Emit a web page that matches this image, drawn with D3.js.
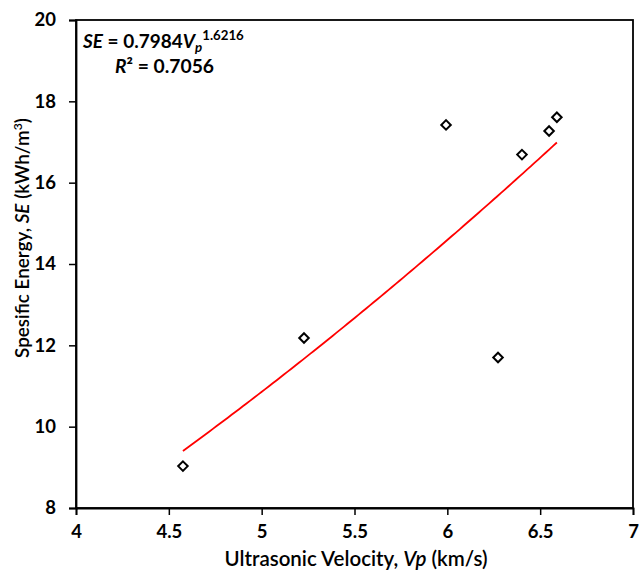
<!DOCTYPE html>
<html><head><meta charset="utf-8">
<script src="https://cdn.jsdelivr.net/npm/d3@7"></script>
<style>body{margin:0;background:#fff}svg{display:block}</style>
</head><body>
<svg id="c" width="641" height="574"></svg>
<script>
const vp = [4.576, 5.228, 5.993, 6.273, 6.402, 6.548, 6.590];
const se = [9.03, 12.18, 17.42, 11.70, 16.69, 17.27, 17.61];
const fitA = 0.7984, fitB = 1.6216;
const xTicks = [4, 4.5, 5, 5.5, 6, 6.5, 7];
const yTicks = [8, 10, 12, 14, 16, 18, 20];

const svg = d3.select("#c");
const L = 76, R = 633, T = 20, B = 508;
const x = d3.scaleLinear().domain([4, 7]).range([L, R]);
const y = d3.scaleLinear().domain([8, 20]).range([B, T]);
const font = "Lato, 'Open Sans', sans-serif";

function fitWidth(sel, target) {
  const w = sel.node().getComputedTextLength();
  const fs = parseFloat(sel.style("font-size"));
  sel.style("font-size", (fs * target / w) + "px");
}

// frame
svg.append("rect").attr("x", L).attr("y", T).attr("width", R - L).attr("height", B - T)
  .attr("fill", "none").attr("stroke", "#000").attr("stroke-width", 1.8);

const xa = svg.append("g").attr("transform", `translate(0,${B})`)
  .call(d3.axisBottom(x).tickValues(xTicks).tickSize(7).tickPadding(10).tickFormat(d3.format("")));
const ya = svg.append("g").attr("transform", `translate(${L},0)`)
  .call(d3.axisLeft(y).tickValues(yTicks).tickSize(7).tickPadding(13).tickFormat(d3.format("")));
[xa, ya].forEach(g => {
  g.select(".domain").attr("stroke", "#000").attr("stroke-width", 1.8);
  g.selectAll(".tick line").attr("stroke", "#000").attr("stroke-width", 1.5);
  g.selectAll(".tick text").attr("fill", "#000").style("font-family", font)
    .style("font-size", "18.5px").style("font-weight", "bold");
});

// fit curve
const xs = d3.range(0, 101).map(i => d3.min(vp) + (d3.max(vp) - d3.min(vp)) * i / 100);
svg.append("path").datum(xs)
  .attr("d", d3.line().x(d => x(d)).y(d => y(fitA * Math.pow(d, fitB))))
  .attr("fill", "none").attr("stroke", "#ff0000").attr("stroke-width", 1.8);

// points
svg.append("g").selectAll("path").data(vp).join("path")
  .attr("transform", (d, i) => `translate(${x(d)},${y(se[i])})`)
  .attr("d", d3.symbol().type(d3.symbolDiamond2).size(58))
  .attr("fill", "#fff").attr("stroke", "#000").attr("stroke-width", 2);

// equation
const eq = svg.append("text").attr("x", 83).attr("y", 48)
  .style("font-family", font).style("font-size", "19px").style("font-weight", "bold").attr("fill", "#000");
eq.append("tspan").attr("font-style", "italic").text("SE");
eq.append("tspan").text(" = 0.7984");
eq.append("tspan").attr("font-style", "italic").text("V");
eq.append("tspan").attr("font-style", "italic").attr("font-size", "0.7em").attr("dy", 4).text("p");
eq.append("tspan").attr("font-size", "0.7em").attr("dy", -12).text("1.6216");
fitWidth(eq, 161);

const r2 = svg.append("text").attr("x", 115).attr("y", 73)
  .style("font-family", font).style("font-size", "19px").style("font-weight", "bold").attr("fill", "#000");
r2.append("tspan").attr("font-style", "italic").text("R");
r2.append("tspan").text("² = 0.7056");
fitWidth(r2, 99);

// axis titles
const xt = svg.append("text").attr("x", 356).attr("y", 566).attr("text-anchor", "middle")
  .style("font-family", font).style("font-size", "19px").style("font-weight", "600").attr("fill", "#000");
xt.append("tspan").text("Ultrasonic Velocity, ");
xt.append("tspan").attr("font-style", "italic").text("Vp");
xt.append("tspan").text(" (km/s)");
fitWidth(xt, 263);

const yt = svg.append("text").attr("transform", "translate(29,238) rotate(-90)").attr("text-anchor", "middle")
  .style("font-family", font).style("font-size", "19px").style("font-weight", "600").attr("fill", "#000");
yt.append("tspan").text("Spesific Energy, ");
yt.append("tspan").attr("font-style", "italic").text("SE");
yt.append("tspan").text(" (kWh/m");
yt.append("tspan").attr("font-size", "0.65em").attr("dy", -7).text("3");
yt.append("tspan").attr("dy", 7).text(")");
fitWidth(yt, 240);
</script>
</body></html>
